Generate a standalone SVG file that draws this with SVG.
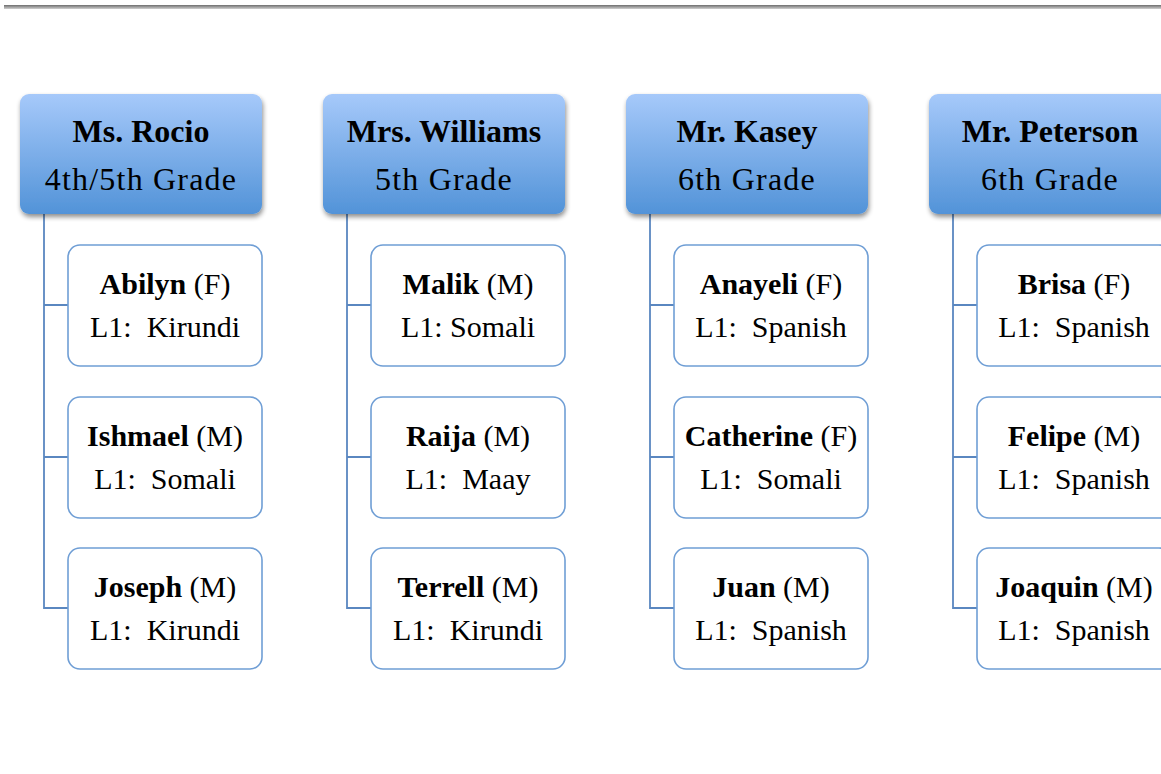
<svg xmlns="http://www.w3.org/2000/svg" width="1161" height="774" viewBox="0 0 1161 774">
<defs>
<linearGradient id="hg" x1="0" y1="0" x2="0" y2="1">
<stop offset="0" stop-color="#a6c9fa"/>
<stop offset="1" stop-color="#5293d8"/>
</linearGradient>
<filter id="sh" x="-10%" y="-10%" width="125%" height="130%">
<feGaussianBlur in="SourceAlpha" stdDeviation="2.5"/>
<feOffset dx="1" dy="3" result="b"/>
<feComponentTransfer><feFuncA type="linear" slope="0.45"/></feComponentTransfer>
<feMerge><feMergeNode/><feMergeNode in="SourceGraphic"/></feMerge>
</filter>
<linearGradient id="tl" x1="0" y1="0" x2="0" y2="1">
<stop offset="0" stop-color="#6e6e6e"/>
<stop offset="1" stop-color="#d0d0d0"/>
</linearGradient>
</defs>
<style>
.hd{fill:url(#hg);filter:url(#sh)}
.ch{fill:#fff;stroke:#6f9ed5;stroke-width:1.6}
.cn{fill:none;stroke:#5a87c0;stroke-width:1.8}
text{font-family:"Liberation Serif","DejaVu Serif",serif;fill:#000;text-anchor:middle}
.t1{font-size:32px;font-weight:bold}
.t2{font-size:32px;letter-spacing:1.2px}
.n{font-size:30px}
.b{font-weight:bold}
</style>
<rect x="4" y="5" width="1157" height="4" fill="url(#tl)"/>
<g id="connectors">
<path class="cn" d="M44 214V608H68M44 305H68M44 457H68"/>
<path class="cn" d="M347 214V608H371M347 305H371M347 457H371"/>
<path class="cn" d="M650 214V608H674M650 305H674M650 457H674"/>
<path class="cn" d="M953 214V608H977M953 305H977M953 457H977"/>
</g>
<g id="h1"><rect class="hd" x="20" y="94" width="242" height="120" rx="9"/><text class="t1" x="141" y="142">Ms. Rocio</text><text class="t2" x="141" y="190">4th/5th Grade</text></g>
<g id="h2"><rect class="hd" x="323" y="94" width="242" height="120" rx="9"/><text class="t1" x="444" y="142">Mrs. Williams</text><text class="t2" x="444" y="190">5th Grade</text></g>
<g id="h3"><rect class="hd" x="626" y="94" width="242" height="120" rx="9"/><text class="t1" x="747" y="142">Mr. Kasey</text><text class="t2" x="747" y="190">6th Grade</text></g>
<g id="h4"><rect class="hd" x="929" y="94" width="242" height="120" rx="9"/><text class="t1" x="1050" y="142">Mr. Peterson</text><text class="t2" x="1050" y="190">6th Grade</text></g>

<g id="c11"><rect class="ch" x="68" y="245" width="194" height="121" rx="12"/><text class="n" x="165" y="294"><tspan class="b">Abilyn</tspan> (F)</text><text class="n" x="165" y="337" xml:space="preserve">L1:  Kirundi</text></g>
<g id="c12"><rect class="ch" x="68" y="397" width="194" height="121" rx="12"/><text class="n" x="165" y="446"><tspan class="b">Ishmael</tspan> (M)</text><text class="n" x="165" y="489" xml:space="preserve">L1:  Somali</text></g>
<g id="c13"><rect class="ch" x="68" y="548" width="194" height="121" rx="12"/><text class="n" x="165" y="597"><tspan class="b">Joseph</tspan> (M)</text><text class="n" x="165" y="640" xml:space="preserve">L1:  Kirundi</text></g>

<g id="c21"><rect class="ch" x="371" y="245" width="194" height="121" rx="12"/><text class="n" x="468" y="294"><tspan class="b">Malik</tspan> (M)</text><text class="n" x="468" y="337">L1: Somali</text></g>
<g id="c22"><rect class="ch" x="371" y="397" width="194" height="121" rx="12"/><text class="n" x="468" y="446"><tspan class="b">Raija</tspan> (M)</text><text class="n" x="468" y="489" xml:space="preserve">L1:  Maay</text></g>
<g id="c23"><rect class="ch" x="371" y="548" width="194" height="121" rx="12"/><text class="n" x="468" y="597"><tspan class="b">Terrell</tspan> (M)</text><text class="n" x="468" y="640" xml:space="preserve">L1:  Kirundi</text></g>

<g id="c31"><rect class="ch" x="674" y="245" width="194" height="121" rx="12"/><text class="n" x="771" y="294"><tspan class="b">Anayeli</tspan> (F)</text><text class="n" x="771" y="337" xml:space="preserve">L1:  Spanish</text></g>
<g id="c32"><rect class="ch" x="674" y="397" width="194" height="121" rx="12"/><text class="n" x="771" y="446"><tspan class="b">Catherine</tspan> (F)</text><text class="n" x="771" y="489" xml:space="preserve">L1:  Somali</text></g>
<g id="c33"><rect class="ch" x="674" y="548" width="194" height="121" rx="12"/><text class="n" x="771" y="597"><tspan class="b">Juan</tspan> (M)</text><text class="n" x="771" y="640" xml:space="preserve">L1:  Spanish</text></g>

<g id="c41"><rect class="ch" x="977" y="245" width="194" height="121" rx="12"/><text class="n" x="1074" y="294"><tspan class="b">Brisa</tspan> (F)</text><text class="n" x="1074" y="337" xml:space="preserve">L1:  Spanish</text></g>
<g id="c42"><rect class="ch" x="977" y="397" width="194" height="121" rx="12"/><text class="n" x="1074" y="446"><tspan class="b">Felipe</tspan> (M)</text><text class="n" x="1074" y="489" xml:space="preserve">L1:  Spanish</text></g>
<g id="c43"><rect class="ch" x="977" y="548" width="194" height="121" rx="12"/><text class="n" x="1074" y="597"><tspan class="b">Joaquin</tspan> (M)</text><text class="n" x="1074" y="640" xml:space="preserve">L1:  Spanish</text></g>
</svg>
